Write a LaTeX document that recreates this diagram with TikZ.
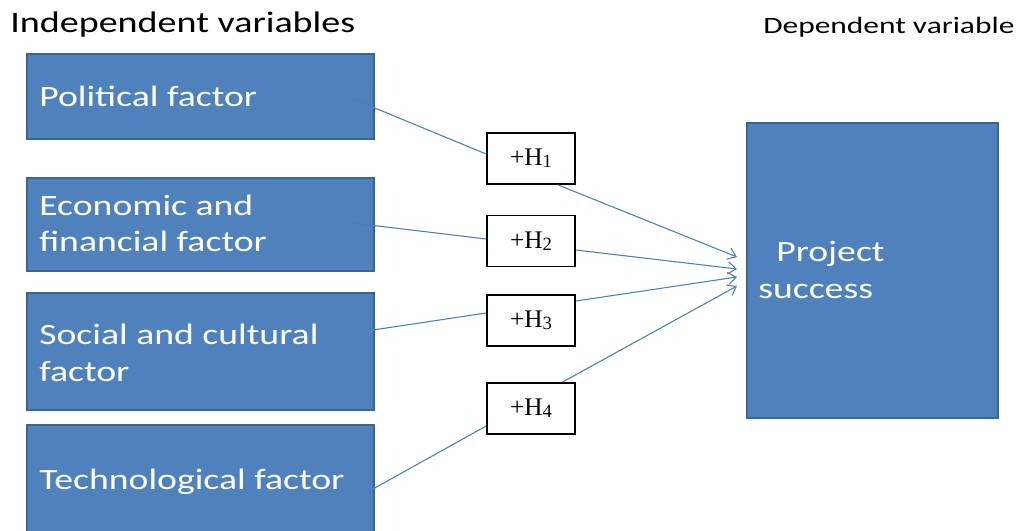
\documentclass[tikz,border=0pt]{standalone}
\usepackage{fontspec}
\usetikzlibrary{calc,arrows.meta}
\newfontfamily\labelfont[FakeStretch=1.28]{Carlito}
\newfontfamily\headfont[FakeStretch=1.34]{Carlito}
\newfontfamily\hypfont{Liberation Serif}
\definecolor{boxblue}{HTML}{4F81BD}
\definecolor{boxedge}{HTML}{3A6493}
\definecolor{linkblue}{HTML}{4A7EBB}
\newcommand{\hyp}[1]{\hypfont +H\raisebox{-1.5pt}{\fontsize{14}{15}\selectfont #1}}
\tikzset{
  factorbox/.style={draw=boxedge, fill=boxblue, line width=1.5pt, rectangle,
    anchor=north west, inner sep=0pt, minimum width=260.25pt},
  hypbox/.style={draw=black, fill=white, line width=1.3pt, rectangle,
    inner sep=0pt, minimum width=66pt, minimum height=38.25pt,
    font=\fontsize{19}{21}\selectfont},
  boxtext/.style={anchor=base west, inner sep=0pt, text=white,
    font=\labelfont\fontsize{22.1}{26}\selectfont},
  headtext/.style={anchor=base west, inner sep=0pt, text=black},
  link/.style={draw=linkblue, line width=0.8pt},
  arrowlink/.style={link, -{Straight Barb[length=6pt,width=9pt]}}
}
\begin{document}
\begin{tikzpicture}[x=0.75pt, y=-0.75pt]
\useasboundingbox (0,0) rectangle (1021,531);

% headings
\node[headtext, font=\labelfont\fontsize{22.3}{26}\selectfont] (indep) at (10,33) {Independent variables};
\node[headtext, font=\headfont\fontsize{17.6}{20}\selectfont] (dep) at (763,34) {Dependent variable};

% factor boxes
\node[factorbox, minimum height=63.75pt] (b1) at (26,53) {};
\node[factorbox, minimum height=69.75pt] (b2) at (26,177) {};
\node[factorbox, minimum height=87.75pt] (b3) at (26,292) {};
\node[factorbox, minimum height=90.75pt] (b4) at (26,424) {};

% outcome box
\node[factorbox, minimum width=188.25pt, minimum height=221.25pt] (out) at (746,122) {};

% box texts
\node[boxtext] (t1) at (39,107) {Political factor};
\node[boxtext] (t2a) at (39,215) {Economic and};
\node[boxtext] (t2b) at (39,252) {financial factor};
\node[boxtext] (t3a) at (39,344) {Social and cultural};
\node[boxtext] (t3b) at (39,381) {factor};
\node[boxtext] (t4) at (39,489) {Technological factor};
\node[boxtext] (o1) at (776,261) {Project};
\node[boxtext] (o2) at (758,298) {success};

% hypothesis boxes
\node[hypbox] (h1) at (531,158.5) {\hyp{1}};
\node[hypbox] (h2) at (531,241) {\hyp{2}};
\node[hypbox] (h3) at (531,320.5) {\hyp{3}};
\node[hypbox] (h4) at (531,408.5) {\hyp{4}};

% connector ends
\coordinate (s1) at (353,99);
\coordinate (s2) at (353,223);
\coordinate (s3) at (373,330);
\coordinate (s4) at (373,489);
\coordinate (e1) at (737,257);
\coordinate (e2) at (737,269);
\coordinate (e3) at (737,277);
\coordinate (e4) at (737,286);

% factor -> hypothesis
\draw[link] (s1) -- ($(h1.west)+(0,-4.5)$);
\draw[link] (s2) -- ($(h2.west)+(0,-2)$);
\draw[link] (s3) -- ($(h3.west)+(0,-7.5)$);
\draw[link] (s4) -- ($(h4.west)+(0,17.5)$);

% hypothesis -> outcome
\draw[arrowlink] ($(h1.south west)!0.8!(h1.south east)$) -- (e1);
\draw[arrowlink] ($(h2.east)+(0,9)$) -- (e2);
\draw[arrowlink] ($(h3.east)+(0,-19.5)$) -- (e3);
\draw[arrowlink] ($(h4.north west)!0.85!(h4.north east)$) -- (e4);
\end{tikzpicture}
\end{document}
